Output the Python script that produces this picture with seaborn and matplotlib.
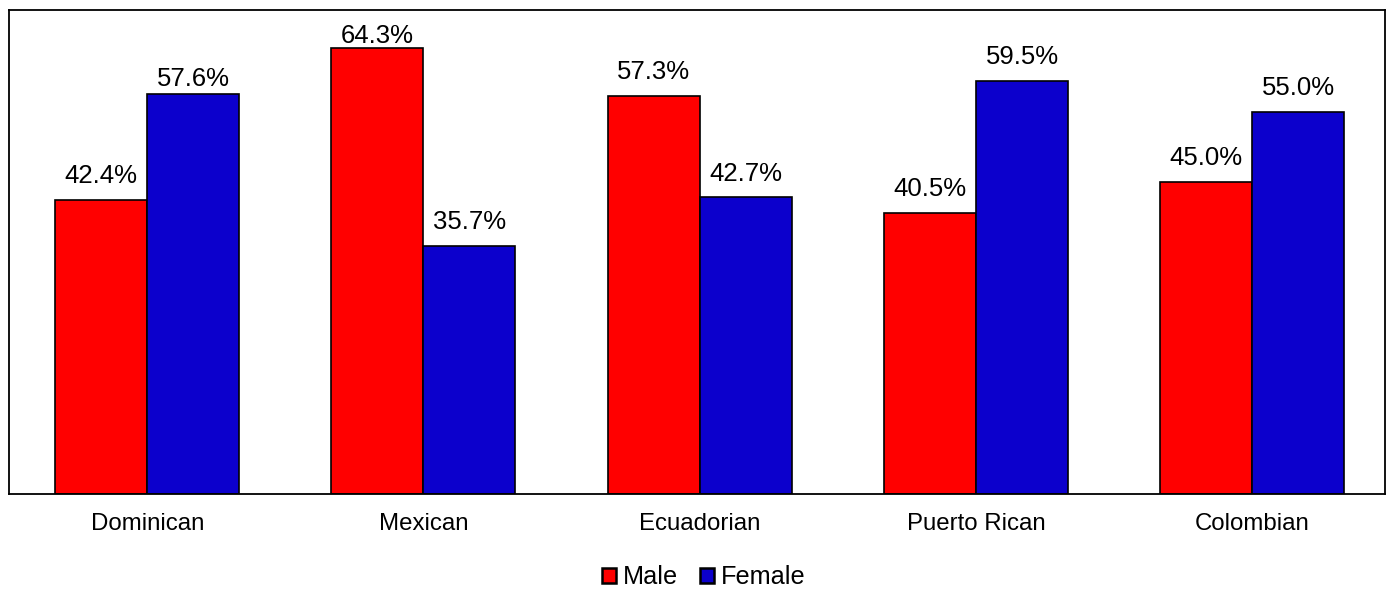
import matplotlib
matplotlib.use("Agg")
import matplotlib.pyplot as plt
import seaborn as sns
import pandas as pd

groups = ["Dominican", "Mexican", "Ecuadorian", "Puerto Rican", "Colombian"]
male = [42.4, 64.3, 57.3, 40.5, 45.0]
female = [57.6, 35.7, 42.7, 59.5, 55.0]
series = ["Male", "Female"]
colors = ["#FF0000", "#0C00CC"]

df = pd.DataFrame({
    "group": groups * 2,
    "sex": ["Male"] * len(groups) + ["Female"] * len(groups),
    "pct": male + female,
})

sns.set_theme(style="white")
plt.rcParams["font.family"] = ["Liberation Sans", "DejaVu Sans"]
plt.rcParams["text.color"] = "black"
plt.rcParams["xtick.color"] = "black"

FS_VAL = 18.5
FS_TICK = 17.3
FS_LEG = 18.2

fig = plt.figure(figsize=(13.94, 5.89), dpi=100)
ax = fig.add_axes([0.0065, 0.1613, 0.987, 0.8217])

sns.barplot(data=df, x="group", y="pct", hue="sex", order=groups,
            hue_order=series, palette=colors, width=0.666, gap=0,
            edgecolor="black", linewidth=1.2, saturation=1, ax=ax,
            legend=True)

# value labels; the two tallest labels near the frame sit closer to their bars
tight = {("Female", "Dominican"): 2.5, ("Male", "Mexican"): -0.5}
for name, cont in zip(series, ax.containers):
    for g, bar, v in zip(groups, cont, cont.datavalues):
        pad = tight.get((name, g), 8.5)
        ax.annotate(f"{v:.1f}%", (bar.get_x() + bar.get_width() / 2, bar.get_height()),
                    xytext=(0, pad), textcoords="offset points",
                    ha="center", va="bottom", fontsize=FS_VAL, color="black")

ax.set_ylim(0, 69.7)
ax.set_xlim(-0.5, 4.48)
ax.set_yticks([])
ax.set_xlabel("")
ax.set_ylabel("")
ax.tick_params(axis="x", labelsize=FS_TICK, pad=13.5, length=0, labelcolor="black")
for s in ax.spines.values():
    s.set_color("black")
    s.set_linewidth(1.3)

leg = ax.legend(loc="upper center", bbox_to_anchor=(0.505, -0.1), ncol=2,
                frameon=False, fontsize=FS_LEG, handlelength=0.55,
                handleheight=0.55, handletextpad=0.3, columnspacing=0.85)
for t in leg.get_texts():
    t.set_color("black")
for h in leg.legend_handles:
    h.set_linewidth(1.8)

fig.savefig("out.png", dpi=100)
